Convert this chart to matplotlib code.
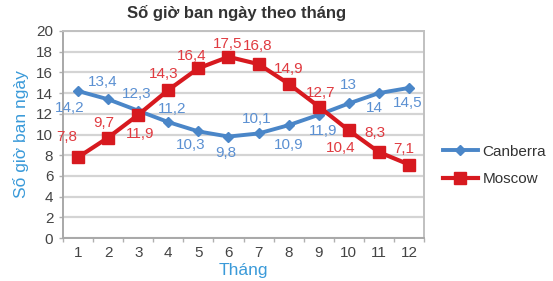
import matplotlib.pyplot as plt
from matplotlib.lines import Line2D

plt.rcParams['font.family'] = ['Liberation Sans', 'DejaVu Sans']

months = list(range(1, 13))
canberra = [14.2, 13.4, 12.3, 11.2, 10.3, 9.8, 10.1, 10.9, 11.9, 13, 14, 14.5]
moscow = [7.8, 9.7, 11.9, 14.3, 16.4, 17.5, 16.8, 14.9, 12.7, 10.4, 8.3, 7.1]

# label offsets in pixels (dx, dy), dy positive = up
canberra_off = [(-8, -17), (-5, 17), (-2, 17), (4, 13), (-8, -14), (-3, -16),
                (-2, 14), (0, -20), (4, -16), (0, 18), (-4, -15), (-1, -15)]
moscow_off = [(-11, 20), (-4, 15), (2, -19), (-5, 16), (-7, 12), (-1, 13),
              (-1, 18), (0, 15), (2, 14), (-8, -18), (-4, 19), (-5, 16)]

BLUE = "#4a86c8"
BLUE_TXT = "#5b90d2"
RED = "#d7191f"
RED_TXT = "#e03a40"
AXIS_BLUE = "#3a9ad9"

fig = plt.figure(figsize=(5.53, 2.81), dpi=100)
ax = fig.add_axes([63 / 553, 1 - 238 / 281, (424 - 63) / 553, (238 - 31) / 281])

ax.plot(months, canberra, color=BLUE, lw=2.8, marker="D", ms=5.5, zorder=3)
ax.plot(months, moscow, color=RED, lw=3.0, marker="s", ms=9, zorder=4)

def fmt(v):
    s = f"{v:g}"
    return s.replace(".", ",")

for m, v, (dx, dy) in zip(months, canberra, canberra_off):
    ax.annotate(fmt(v), (m, v), xytext=(dx, dy), textcoords="offset pixels",
                ha="center", va="center", color=BLUE_TXT, fontsize=11)
for m, v, (dx, dy) in zip(months, moscow, moscow_off):
    ax.annotate(fmt(v), (m, v), xytext=(dx, dy), textcoords="offset pixels",
                ha="center", va="center", color=RED_TXT, fontsize=11)

ax.set_xlim(0.5, 12.5)
ax.set_ylim(0, 20)
ax.set_yticks(range(0, 21, 2))
ax.set_xticks(months)
ax.set_xticks([m + 0.5 for m in range(0, 13)], minor=True)
ax.tick_params(axis="x", which="major", length=0, pad=6, labelsize=11, labelcolor="#444444")
ax.tick_params(axis="x", which="minor", length=3, color="#b0b0b0", width=1)
ax.tick_params(axis="y", length=3, color="#b0b0b0", width=1, labelsize=11, labelcolor="#444444", pad=4)
ax.grid(axis="y", color="#d4d4d4", lw=1.6)
ax.set_axisbelow(True)
for sp in ax.spines.values():
    sp.set_color("#c0c0c0")
    sp.set_linewidth(1.4)
ax.spines["left"].set_color("#a8a8a8")
ax.spines["bottom"].set_color("#a8a8a8")

ax.set_xlabel("Tháng", color=AXIS_BLUE, fontsize=12.5, labelpad=2)
ax.set_ylabel("Số giờ ban ngày", color=AXIS_BLUE, fontsize=12.5, labelpad=5)
fig.text(237 / 553, 1 - 13 / 281, "Số giờ ban ngày theo tháng", ha="center", va="center",
         fontsize=12, fontweight="bold", color="#333333")

handles = [Line2D([], [], color=BLUE, lw=2.8, marker="D", ms=5.5),
           Line2D([], [], color=RED, lw=3.0, marker="s", ms=9)]
fig.legend(handles, ["Canberra", "Moscow"], loc="upper left",
           bbox_to_anchor=(438 / 553, 1 - 140 / 281), frameon=False,
           fontsize=11, handlelength=2.3, handletextpad=0.3, labelspacing=0.9,
           labelcolor="#333333", borderaxespad=0, borderpad=0.3)

fig.savefig("out.png", dpi=100, facecolor="white")
